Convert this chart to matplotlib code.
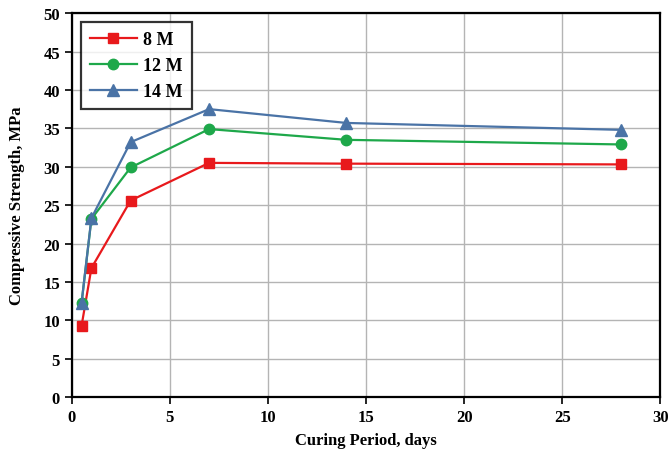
import matplotlib
matplotlib.use("Agg")
import matplotlib.pyplot as plt

days = [0.5, 1, 3, 7, 14, 28]
strength_8m = [9.3, 16.8, 25.6, 30.5, 30.4, 30.3]
strength_12m = [12.3, 23.2, 29.9, 34.9, 33.5, 32.9]
strength_14m = [12.3, 23.3, 33.2, 37.5, 35.7, 34.8]

plt.rcParams["font.family"] = ["Liberation Serif", "DejaVu Serif"]
plt.rcParams["font.weight"] = "bold"

fig = plt.figure(figsize=(6.71, 4.56), dpi=100)
ax = fig.add_axes([0.107, 0.127, 0.877, 0.842])

ax.plot(days, strength_8m, color="#e8191c", marker="s", markersize=6.5, linewidth=1.6, label="8 M")
ax.plot(days, strength_12m, color="#1ea84a", marker="o", markersize=7.5, linewidth=1.6, label="12 M")
ax.plot(days, strength_14m, color="#4a73a6", marker="^", markersize=8.5, linewidth=1.6, label="14 M")

ax.set_xlim(0, 30)
ax.set_ylim(0, 50)
ax.set_xticks(range(0, 31, 5))
ax.set_yticks(range(0, 51, 5))
ax.grid(True, color="#b4b4b4", linewidth=1.0)
ax.set_axisbelow(True)
for side in ["left", "bottom", "top", "right"]:
    ax.spines[side].set_linewidth(1.6)
    ax.spines[side].set_color("black")
ax.tick_params(direction="out", length=5, width=1.2, labelsize=12)
for lbl in ax.get_xticklabels() + ax.get_yticklabels():
    lbl.set_fontweight("bold")

ax.set_xlabel("Curing Period, days", fontsize=12, fontweight="bold", labelpad=5)
ax.set_ylabel("Compressive Strength, MPa", fontsize=12, fontweight="bold", labelpad=13)

leg = ax.legend(loc="upper left", frameon=True, fancybox=False,
                edgecolor="black", borderpad=0.5, handlelength=2.6,
                handletextpad=0.35, labelspacing=0.5, borderaxespad=0.5,
                prop={"weight": "bold", "size": 13})
leg.get_frame().set_linewidth(1.6)

fig.savefig("out.png", dpi=100)
